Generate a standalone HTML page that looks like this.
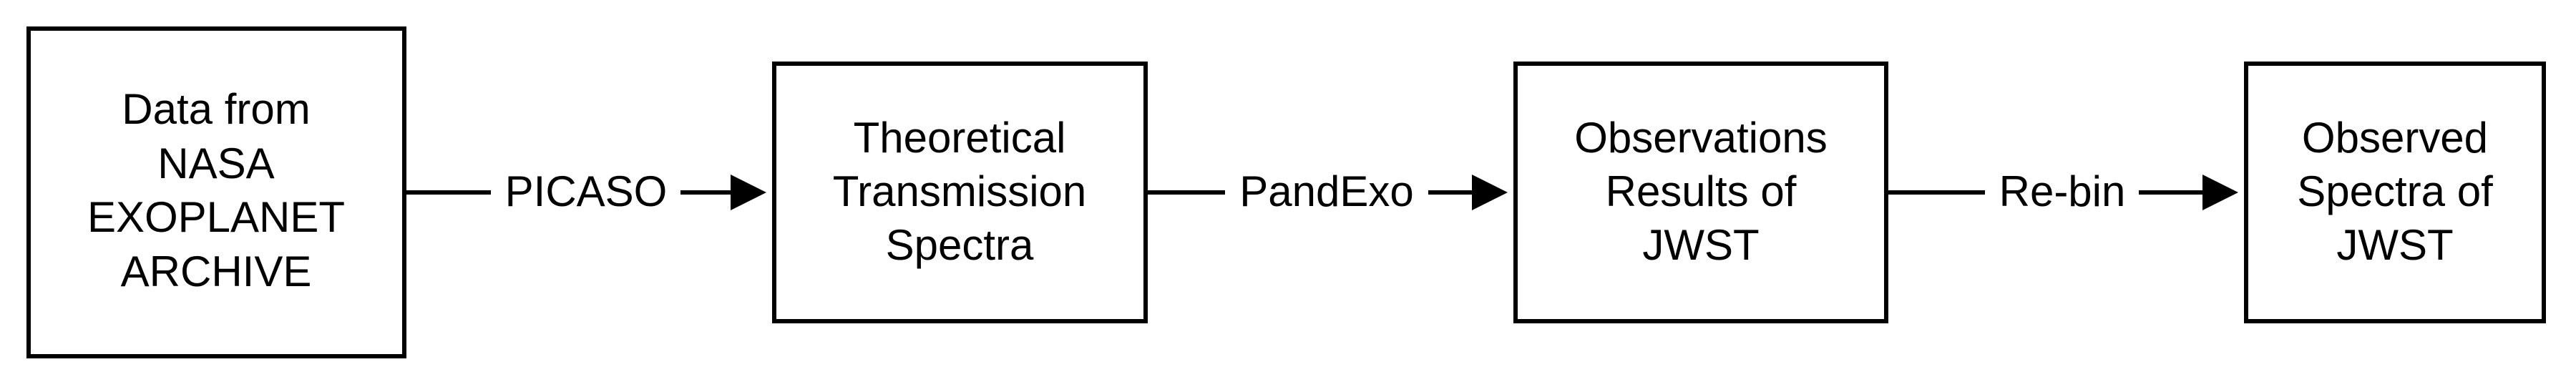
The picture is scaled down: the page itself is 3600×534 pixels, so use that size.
<!DOCTYPE html>
<html><head><meta charset="utf-8"><style>html,body{margin:0;padding:0;background:#fff;}svg{display:block}</style></head>
<body>
<svg width="3600" height="534" viewBox="0 0 3600 534" xmlns="http://www.w3.org/2000/svg">
<g fill="none" stroke="#000" stroke-width="6">
<rect x="40" y="40" width="525" height="458"/>
<rect x="1082" y="89" width="519" height="360"/>
<rect x="2118" y="89" width="518" height="360"/>
<rect x="3139" y="89" width="416" height="360"/>
<line x1="568" y1="269" x2="686" y2="269"/>
<line x1="951" y1="269" x2="1025" y2="269"/>
<line x1="1604" y1="269" x2="1712" y2="269"/>
<line x1="1996" y1="269" x2="2058" y2="269"/>
<line x1="2639" y1="269" x2="2774" y2="269"/>
<line x1="2989" y1="269" x2="3080" y2="269"/>
</g>
<g fill="#000">
<polygon points="1021,244 1071,269 1021,294"/>
<polygon points="2057,244 2107,269 2057,294"/>
<polygon points="3078,244 3128,269 3078,294"/>
</g>
<g font-family="Liberation Sans, Arial, sans-serif" font-size="60" text-anchor="middle" fill="#000">
<text x="302" y="173">Data from</text>
<text x="302" y="249">NASA</text>
<text x="302" y="324">EXOPLANET</text>
<text x="302" y="400">ARCHIVE</text>
<text x="1341" y="213">Theoretical</text>
<text x="1341" y="288">Transmission</text>
<text x="1341" y="363">Spectra</text>
<text x="2377" y="213">Observations</text>
<text x="2377" y="288">Results of</text>
<text x="2377" y="363">JWST</text>
<text x="3347" y="213">Observed</text>
<text x="3347" y="288">Spectra of</text>
<text x="3347" y="363">JWST</text>
<text x="819" y="288">PICASO</text>
<text x="1854" y="288">PandExo</text>
<text x="2882" y="288">Re-bin</text>
</g>
</svg>
</body></html>
